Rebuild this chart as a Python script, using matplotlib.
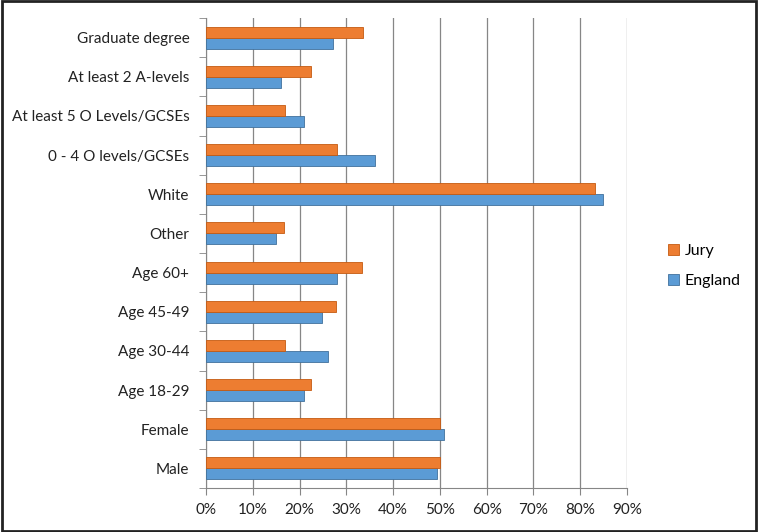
import matplotlib.pyplot as plt
import numpy as np
from matplotlib.patches import Rectangle

categories = ['Male', 'Female', 'Age 18-29', 'Age 30-44', 'Age 45-49', 'Age 60+',
              'Other', 'White', '0 - 4 O levels/GCSEs', 'At least 5 O Levels/GCSEs',
              'At least 2 A-levels', 'Graduate degree']
jury = [50.0, 50.0, 22.4, 16.8, 27.8, 33.3, 16.7, 83.2, 27.9, 16.8, 22.4, 33.5]
england = [49.3, 50.8, 21.0, 26.1, 24.9, 28.0, 14.9, 84.9, 36.1, 21.0, 16.1, 27.1]
xticks = [0, 10, 20, 30, 40, 50, 60, 70, 80, 90]

plt.rcParams['font.family'] = ['Lato', 'DejaVu Sans']

fig = plt.figure(figsize=(7.58, 5.32), dpi=100)
ax = fig.add_axes([206 / 758, 1 - 488 / 532, (627 - 206) / 758, (488 - 18) / 532])

y = np.arange(len(categories))
h = 0.28
ax.barh(y - h / 2, england, height=h, color='#5B9BD5', edgecolor='#41719C',
        linewidth=0.6, label='England', zorder=3)
ax.barh(y + h / 2, jury, height=h, color='#ED7D31', edgecolor='#C55A11',
        linewidth=0.6, label='Jury', zorder=3)

ax.set_xlim(0, 90)
ax.set_ylim(-0.5, len(categories) - 0.5)
ax.set_xticks(xticks)
ax.set_xticklabels([f'{t}%' for t in xticks], fontsize=11, color='#222222')
ax.set_yticks(y)
ax.set_yticklabels(categories, fontsize=11, color='#222222')
ax.set_yticks(np.arange(-0.5, len(categories)), minor=True)
ax.tick_params(axis='y', which='major', length=0, pad=12)
ax.tick_params(axis='y', which='minor', length=5, color='#868686')
ax.tick_params(axis='x', length=5, color='#868686', pad=6)
ax.grid(axis='x', color='#868686', linewidth=0.9, zorder=0)
for side in ['top', 'right']:
    ax.spines[side].set_visible(False)
ax.spines['left'].set_color('#868686')
ax.spines['bottom'].set_color('#868686')

handles, labels = ax.get_legend_handles_labels()
fig.legend(handles[::-1], labels[::-1], loc='center left',
           bbox_to_anchor=(654 / 758, 1 - 266 / 532), frameon=False,
           handlelength=0.65, handleheight=0.65, handletextpad=0.35,
           labelspacing=1.0, fontsize=11.5)

fig.patches.append(Rectangle((0.002, 0.002), 0.996, 0.996, transform=fig.transFigure,
                             fill=False, edgecolor='#222222', linewidth=2))

fig.savefig('out.png', dpi=100)
